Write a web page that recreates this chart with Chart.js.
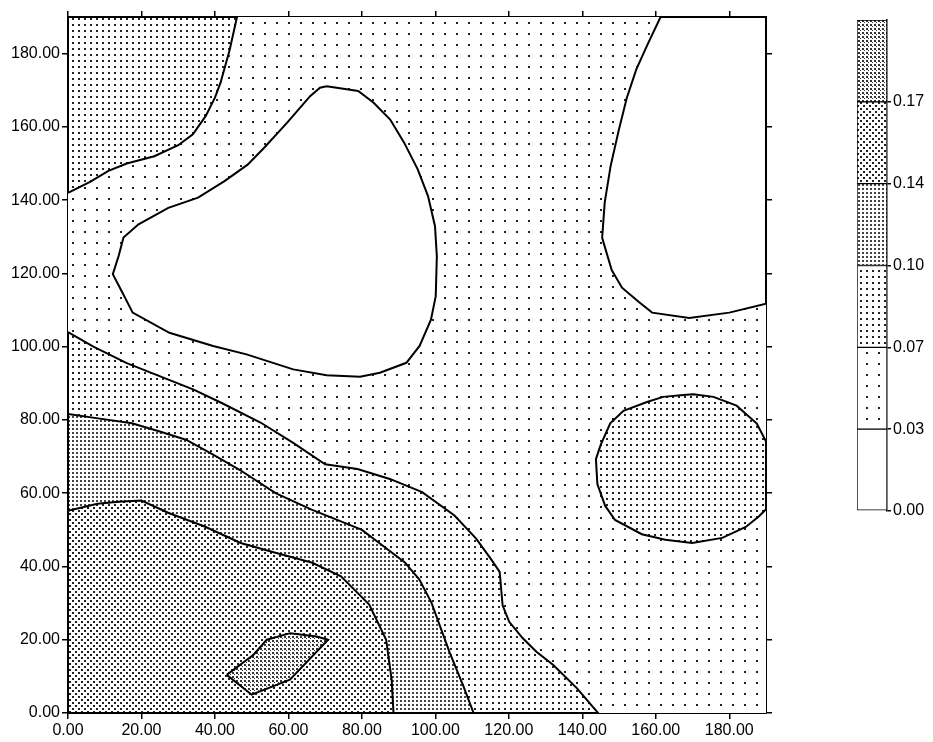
<!DOCTYPE html>
<html><head><meta charset="utf-8">
<script src="https://cdn.jsdelivr.net/npm/chart.js@4.4.1/dist/chart.umd.min.js"></script>
<style>
html,body{margin:0;padding:0;background:#fff;}
#wrap{position:relative;width:933px;height:742px;overflow:hidden;}
#main{position:absolute;left:0;top:0;}
#leg{position:absolute;left:830px;top:0;}
</style></head><body>
<div id="wrap"><canvas id="main" width="830" height="742"></canvas><canvas id="leg" width="103" height="530"></canvas></div>
<script>
// ---------- data ----------
const xTicks = [0, 20, 40, 60, 80, 100, 120, 140, 160, 180];
const yTicks = [0, 20, 40, 60, 80, 100, 120, 140, 160, 180];
const axisMin = 0, axisMax = 190;
const levelLabels = ['0.00', '0.03', '0.07', '0.10', '0.14', '0.17'];
const bandSizes = [1, 1, 1, 1, 1, 1];

// full field (0.03 - 0.07 background)
const field = [[0,0],[190,0],[190,190],[0,190]];
// 0.07 contour, top-left corner
const cornerTopLeft = [[0,142],[6,145],[11,148],[16,150],[23.5,152],[30,155],[34,158],[37.5,163],[40,168],[41.5,172],[44,181],[46,190],[0,190]];
// 0.07 closed contour, right
const circleRight = [[167.5,86.8],[162,86.3],[157.6,84.9],[151.2,82.5],[147.6,79.1],[145,73.2],[143.7,69.3],[144.1,62.5],[146.2,56.6],[148.9,52.7],[156.2,48.8],[162.6,47.3],[169.9,46.4],[178.1,47.8],[184.5,50.8],[188.1,53.7],[190,55.6],[190,74.1],[187.5,79],[182,83.9],[175.7,86.3],[170.2,87]];
// 0.07 contour, lower-left
const lower07 = [[0,104],[6.9,100],[16,95.5],[25.1,91.9],[34.2,88.3],[41.7,84.7],[52.4,79.3],[61.2,73.8],[70,67.9],[78.8,66.6],[87.6,63.9],[96.4,60.3],[105.2,53.9],[111.1,47.6],[115,42.2],[117.5,38.5],[118.3,29.4],[120.1,24.9],[123.8,20.4],[127.5,16.7],[132.1,13.1],[138.5,6.8],[144.3,0],[0,0]];
// 0.10 contour
const lower10 = [[0,81.6],[7.7,80.5],[17.4,79.1],[25.2,76.8],[32.1,74.6],[38.9,70.9],[46.7,66.4],[56.5,60],[66.3,55.5],[73.1,52.8],[80,50],[85.8,45.6],[91.7,41.1],[95.6,36.5],[98.9,30.2],[103.9,16.5],[107.6,7.4],[110.4,0],[0,0]];
// 0.14 contour
const lower14 = [[0,55.2],[8,57.1],[13.8,57.7],[20,58],[27.4,54.6],[37.2,50.9],[47,46.4],[56.7,43.7],[66.5,41],[74.3,37.3],[82,29.6],[86.6,20],[88.1,9.1],[88.6,0],[0,0]];
// 0.17 contour
const peak17 = [[43.2,10.4],[50.5,15.9],[54.1,20],[60.5,21.8],[67.7,20.9],[70.8,20],[60.4,9.1],[50,5]];
// 0.03 contours (low areas)
const lowCentre = [[70.4,171.1],[79,169.8],[83.2,166.6],[87.7,162],[91.5,155.7],[95.2,148.4],[98,141.1],[99.9,132.9],[100.4,124.7],[100.1,113.8],[98.8,107.4],[95.7,100.2],[92.1,95.6],[84.9,92.9],[79.5,91.8],[70.4,92.2],[61.3,93.8],[48.6,97.9],[39.5,100.2],[27.6,103.8],[17.6,109.3],[14.8,114.8],[12.2,119.8],[13.8,124.8],[15.1,129.8],[19.2,133.4],[27.3,137.9],[35.4,140.7],[42.6,145.2],[48.9,149.7],[53.4,154.3],[59.6,161.1],[65.9,168.4],[68.6,170.7]];
const lowTopRight = [[161.3,190],[157.8,182.6],[154.7,175.7],[152.1,167.9],[149.9,159],[147.7,149.3],[146.1,139.4],[145.4,129.7],[148,120.9],[150.8,116.1],[155.4,112.2],[159,109.3],[169.1,107.8],[180,109.3],[190,111.7],[190,190]];

// paint order (bottom first) with the band (0 = lowest level) each area belongs to
const areas = [
  {pts: field, band: 1, line: false},
  {pts: cornerTopLeft, band: 2, line: true},
  {pts: circleRight, band: 2, line: true},
  {pts: lower07, band: 2, line: true},
  {pts: lower10, band: 3, line: true},
  {pts: lower14, band: 4, line: true},
  {pts: peak17, band: 5, line: true},
  {pts: lowCentre, band: 0, line: true},
  {pts: lowTopRight, band: 0, line: true}
];

// ---------- styles ----------
const bandStyles = [
  null,
  {w: 12, h: 11, dots: [[0,0,2]], color: '#222'},
  {w: 6, h: 6, dots: [[0,0,2]], color: '#222'},
  {w: 4, h: 4, dots: [[0,0,2]], color: '#444'},
  {w: 6, h: 6, dots: [[0,0,2],[3,3,2]], color: '#222'},
  {w: 4, h: 4, dots: [[0,0,2],[2,2,1]], color: '#333'}
];
function makeFills(ctx) {
  return bandStyles.map(s => {
    if (!s) return '#ffffff';
    const c = document.createElement('canvas');
    c.width = s.w; c.height = s.h;
    const g = c.getContext('2d');
    g.fillStyle = '#ffffff'; g.fillRect(0, 0, s.w, s.h);
    g.fillStyle = s.color;
    s.dots.forEach(d => g.fillRect(d[0], d[1], d[2], d[2]));
    return ctx.createPattern(c, 'repeat');
  });
}
const FONT = {family: '"Liberation Sans", Arial, sans-serif', size: 16};

// ---------- main chart ----------
const mainCtx = document.getElementById('main').getContext('2d');
const mainFills = makeFills(mainCtx);
const datasets = areas.map(a => {
  const pts = a.pts.concat([a.pts[0]]).map(p => ({x: p[0], y: p[1]}));
  return {
    data: pts,
    showLine: true,
    fill: 'shape',
    backgroundColor: mainFills[a.band],
    borderColor: '#000',
    borderWidth: a.line ? 2 : 0,
    pointRadius: 0,
    tension: 0
  };
}).reverse();

function linAxis(pos, ticksArr, labels, fitSize) {
  const horiz = pos === 'top' || pos === 'bottom';
  return {
    type: 'linear', position: pos, min: axisMin, max: axisMax,
    afterBuildTicks: s => { s.ticks = ticksArr.map(v => ({value: v})); },
    afterFit: s => { if (horiz) s.height = fitSize; else s.width = fitSize; },
    ticks: {display: labels, callback: v => Number(v).toFixed(2), font: FONT, color: '#000', padding: 2, maxRotation: 0, autoSkip: false},
    grid: {drawOnChartArea: false, drawTicks: true, tickLength: 6, color: '#000', lineWidth: 1.5},
    border: {display: true, color: '#000', width: 2}
  };
}

new Chart(mainCtx, {
  type: 'scatter',
  data: {datasets},
  options: {
    responsive: false, animation: false, events: [],
    layout: {padding: 0},
    plugins: {legend: {display: false}, tooltip: {enabled: false}},
    scales: {
      x: linAxis('bottom', xTicks, true, 29),
      x2: Object.assign(linAxis('top', xTicks, false, 17), {axis: 'x'}),
      y: linAxis('left', yTicks, true, 68),
      y2: Object.assign(linAxis('right', yTicks, false, 64), {axis: 'y'})
    }
  }
});

// ---------- colour bar ----------
const legCtx = document.getElementById('leg').getContext('2d');
const legFills = makeFills(legCtx);
new Chart(legCtx, {
  type: 'bar',
  data: {
    labels: [''],
    datasets: bandSizes.map((v, i) => ({
      data: [v], backgroundColor: legFills[i], borderColor: '#000', borderWidth: 1,
      borderSkipped: false, categoryPercentage: 1, barPercentage: 1
    }))
  },
  options: {
    responsive: false, animation: false, events: [],
    layout: {padding: {left: 27, top: 20, bottom: 19, right: 0}},
    plugins: {legend: {display: false}, tooltip: {enabled: false}},
    scales: {
      x: {stacked: true, display: false},
      y: {
        stacked: true, position: 'right', min: 0, max: bandSizes.length,
        afterBuildTicks: s => { s.ticks = levelLabels.map((_, i) => ({value: i})); },
        afterFit: s => { s.width = 46; },
        ticks: {callback: (v, i) => levelLabels[i], font: FONT, color: '#000', padding: 2, autoSkip: false},
        grid: {drawOnChartArea: false, drawTicks: true, tickLength: 4, color: '#000', lineWidth: 1.5},
        border: {display: true, color: '#000', width: 1.5}
      }
    }
  }
});
</script>
</body></html>
